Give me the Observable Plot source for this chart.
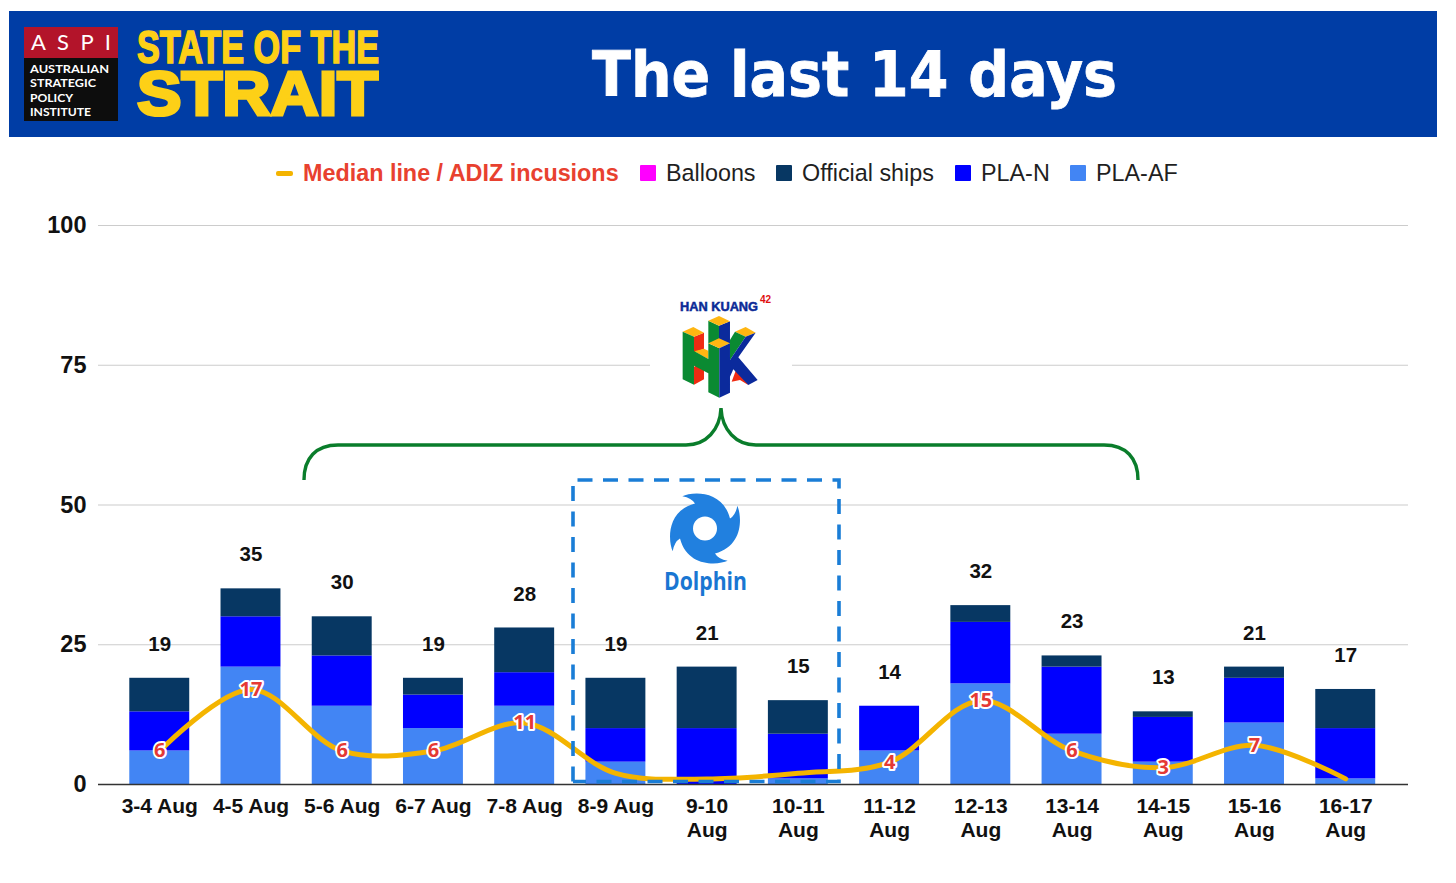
<!DOCTYPE html>
<html><head><meta charset="utf-8">
<script src="https://cdn.jsdelivr.net/npm/d3@7"></script>
<script src="https://cdn.jsdelivr.net/npm/@observablehq/plot@0.6"></script>
<style>
html,body{margin:0;padding:0;background:#fff;overflow:hidden}
#page{position:relative;width:1456px;height:883px;font-family:"Liberation Sans",Arial,sans-serif}
#top{position:absolute;left:0;top:0;width:1456px;height:200px}
#legend{position:absolute;left:0;top:159px;height:28px;width:1456px;font-size:23.35px;color:#1f1f1f}
#legend span.i{position:absolute;top:0;line-height:28px;white-space:nowrap}
#legend span.s{position:absolute;top:6px;width:16px;height:16px;border-radius:1px}
#chart{position:absolute;left:0;top:200px}
#over{position:absolute;left:0;top:0;pointer-events:none}
</style></head><body>
<div id="page">
<svg id="top" width="1456" height="200">
  <rect x="9" y="11" width="1428" height="126" fill="#003da5"/>
  <rect x="24" y="27" width="94" height="31" fill="#b3142a"/>
  <rect x="24" y="58" width="94" height="63" fill="#0d0d0d"/>
  <text x="31" y="50" fill="#fff" font-family="Lato" font-size="22" textLength="80">A S P I</text>
  <g fill="#fff" font-family="Lato" font-size="12" font-weight="700">
    <text x="30" y="73" textLength="79" lengthAdjust="spacingAndGlyphs">AUSTRALIAN</text>
    <text x="30" y="87.4" textLength="66" lengthAdjust="spacingAndGlyphs">STRATEGIC</text>
    <text x="30" y="101.8" textLength="43" lengthAdjust="spacingAndGlyphs">POLICY</text>
    <text x="30" y="116.2" textLength="61" lengthAdjust="spacingAndGlyphs">INSTITUTE</text>
  </g>
  <text fill="#fdd017" stroke="#fdd017" font-family="Liberation Sans" font-weight="700" stroke-linejoin="miter">
    <tspan x="137" y="62.5" font-size="46" stroke-width="1.7" textLength="242" lengthAdjust="spacingAndGlyphs">STATE OF THE</tspan>
    <tspan x="137" y="115" font-size="63" stroke-width="3.2" textLength="241" lengthAdjust="spacingAndGlyphs">STRAIT</tspan>
  </text>
  <text x="592" y="96" fill="#fff" stroke="#fff" stroke-width=".8" font-family="DejaVu Sans" font-weight="700" font-size="62" textLength="525" lengthAdjust="spacingAndGlyphs">The last 14 days</text>
</svg>
<div id="legend"></div>
<div id="chart"></div>
<svg id="over" width="1456" height="883">
  <rect x="650" y="290" width="142" height="112" fill="#fff"/>
  <g font-family="Liberation Sans" font-weight="700">
    <text x="680" y="310.5" fill="#0b2a96" font-size="13" stroke="#0b2a96" stroke-width=".5" textLength="78" lengthAdjust="spacingAndGlyphs">HAN KUANG</text>
    <text x="760" y="303" fill="#e01010" font-size="10">42</text>
  </g>
  <g transform="translate(550,280) scale(.3333)">
    <polygon fill="#0a8a32" points="475,122 507,137 507,190 475,190"/>
    <polygon fill="#0b2a9c" points="507,137 540,124 540,190 507,190"/>
    <polygon fill="#ffb612" points="475,122 507,108 540,124 507,137"/>
    <polygon fill="#ef2b12" points="432,170 462,158 462,206 432,218"/>
    <polygon fill="#ef2b12" points="432,260 462,246 462,298 432,314"/>
    <polygon fill="#ffb612" points="432,214 462,206 475,212 475,237"/>
    <polygon fill="#ffb612" points="398,155 430,141 462,158 432,170"/>
    <polygon fill="#0a8a32" points="398,155 432,170 432,213 475,237 475,190 508,205 508,353 475,337 475,280 432,257 432,314 398,298"/>
    <polygon fill="#ffb612" points="475,190 507,175 540,190 508,205"/>
    <polygon fill="#ef2b12" points="545,305 560,265 595,315 570,300"/>
    <polygon fill="#ffb612" points="555,155 587,141 617,158 587,170"/>
    <polygon fill="#0a8a32" points="540,180 555,155 587,170 540,240"/>
    <polygon fill="#0b2a9c" points="508,205 540,190 540,240 587,170 617,158 565,232 623,300 595,315 550,268 540,290 540,338 508,353"/>
  </g>
  <path d="M304 480C304 458 316 445 338 445H686C706 445 720 430 721 408C722 430 736 445 756 445H1104C1126 445 1138 458 1138 480" fill="none" stroke="#0a7d2b" stroke-width="3.4"/>
  <path d="M573 781.5V480H839V781.5H573" fill="none" stroke="#1a7dd6" stroke-width="3.6" stroke-dasharray="15 10.5"/>
  <g id="cyc" transform="translate(705,528.5) scale(.3333)" fill="#2180df"></g>
  <text x="664" y="590" fill="#1976d2" font-family="Open Sans" font-weight="700" font-size="25" textLength="83" lengthAdjust="spacingAndGlyphs">Dolphin</text>
</svg>
</div>
<script>
const days = ["3-4 Aug","4-5 Aug","5-6 Aug","6-7 Aug","7-8 Aug","8-9 Aug","9-10\nAug","10-11\nAug","11-12\nAug","12-13\nAug","13-14\nAug","14-15\nAug","15-16\nAug","16-17\nAug"];
const plaAF = [6,21,14,10,14,4,0,1,6,18,9,4,11,1];
const plaN = [7,9,9,6,6,6,10,8,8,11,12,8,8,9];
const ships = [6,5,7,3,8,9,11,6,0,3,2,1,2,7];
const balloons = [0,0,0,0,0,0,0,0,0,0,0,0,0,0];
const totals = [19,35,30,19,28,19,21,15,14,32,23,13,21,17];
const median = [6,17,6,6,11,2,1,2,4,15,6,3,7,1];
const medianLabelled = [true,true,true,true,true,false,false,false,true,true,true,true,true,false];
const seriesNames = ["PLA-AF","PLA-N","Official ships","Balloons"];
const seriesColors = ["#4285f4","#0000ff","#073763","#ff00ff"];
const yTicks = [0,25,50,75,100];

const seriesValues = [plaAF, plaN, ships, balloons];
const stacked = seriesNames.flatMap((s,i)=>days.map((d,j)=>({day:d,series:s,value:seriesValues[i][j]})));
const points = days.map((d,j)=>({day:d,median:median[j],total:totals[j],labelled:medianLabelled[j]}));

const chart = Plot.plot({
  width:1456,height:683,marginLeft:98,marginRight:48,marginTop:25,marginBottom:99,
  style:{fontFamily:"Liberation Sans, Arial, sans-serif",background:"transparent",overflow:"visible"},
  x:{domain:days,padding:0.343,align:0.5,round:false,range:[98,1406.5],label:null},
  y:{domain:[0,100],label:null},
  color:{domain:seriesNames,range:seriesColors},
  marks:[
    Plot.gridY(yTicks,{stroke:"#cccccc",strokeOpacity:1,strokeWidth:1.2}),
    Plot.axisY({ticks:yTicks,tickSize:0,tickPadding:12,fontSize:23.5,fontWeight:700,fill:"#111",label:null}),
    Plot.axisX({tickSize:0,tickPadding:11,fontSize:21,fontWeight:700,fill:"#111",lineHeight:1.16,label:null}),
    Plot.barY(stacked,{x:"day",y:"value",fill:"series",order:seriesNames}),
    Plot.ruleY([0],{stroke:"#333",strokeWidth:1.4}),
    Plot.line(points,{x:"day",y:"median",stroke:"#f4b400",strokeWidth:5,curve:"catmull-rom"}),
    Plot.text(points.filter(d=>d.labelled),{x:"day",y:"median",text:d=>String(d.median),fill:"#e53935",stroke:"#fff",strokeWidth:4,fontSize:20,fontWeight:700,fontFamily:"Open Sans"}),
    Plot.text(points,{x:"day",y:"total",text:d=>String(d.total),dy:-34,fill:"#111",fontSize:20.5,fontWeight:700})
  ]
});
document.getElementById("chart").appendChild(chart);

// Legend
const legendItems=[
 {x:666,sw:640,c:"#ff00ff",t:"Balloons"},
 {x:802,sw:776,c:"#073763",t:"Official ships"},
 {x:981,sw:955,c:"#0000ff",t:"PLA-N"},
 {x:1096,sw:1070,c:"#4285f4",t:"PLA-AF"}];
const lg=document.getElementById("legend");
lg.innerHTML=`<span class="s" style="left:276px;top:12px;height:5px;width:17px;background:#f4b400;border-radius:2px"></span><span class="i" style="left:303px;color:#e8412f;font-weight:700">Median line / ADIZ incusions</span>`+
 legendItems.map(d=>`<span class="s" style="left:${d.sw}px;background:${d.c}"></span><span class="i" style="left:${d.x}px">${d.t}</span>`).join("");

// Cyclone icon: one four-armed outline with a hole
const cyc=document.getElementById("cyc");
const ns="http://www.w3.org/2000/svg";
const rot=([x,y],k)=>{for(let i=0;i<k;i++)[x,y]=[-y,x];return x.toFixed(1)+" "+y.toFixed(1)};
let d="M"+rot([-68,-97],0);
for(let k=0;k<4;k++){
  d+="C"+rot([-40,-110],k)+" "+rot([52,-118],k)+" "+rot([75,-30],k)
    +"Q"+rot([-40,-92],k+1)+" "+rot([-68,-97],k+1);
}
const body=document.createElementNS(ns,"path");body.setAttribute("d",d+"Z");cyc.appendChild(body);
const hole=document.createElementNS(ns,"circle");hole.setAttribute("r","36");hole.setAttribute("fill","#fff");cyc.appendChild(hole);
</script>
</body></html>
